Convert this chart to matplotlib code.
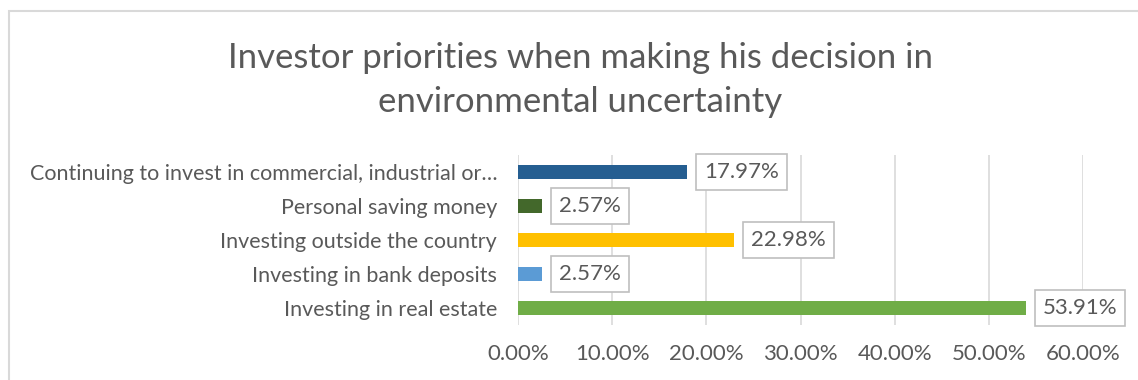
import matplotlib
matplotlib.use("Agg")
import matplotlib.pyplot as plt
from matplotlib.patches import Rectangle
from matplotlib.ticker import FuncFormatter

plt.rcParams['font.family'] = ['Lato', 'DejaVu Sans']

categories = [
    "Continuing to invest in commercial, industrial or\u2026",
    "Personal saving money",
    "Investing outside the country",
    "Investing in bank deposits",
    "Investing in real estate",
]
values = [17.97, 2.57, 22.98, 2.57, 53.91]
colors = ["#255E91", "#43682B", "#FFC000", "#5B9BD5", "#70AD47"]
xticks = [0, 10, 20, 30, 40, 50, 60]

text_color = "#595959"

fig = plt.figure(figsize=(11.38, 3.8), dpi=100)
fig.patches.append(Rectangle((9 / 1138, -0.1), 1.2, 1 - 11 / 380 + 0.1,
                             transform=fig.transFigure, facecolor="none",
                             edgecolor="#D9D9D9", linewidth=1.5, zorder=-1))

ax = fig.add_axes([518 / 1138, 55 / 380, 565 / 1138, 170 / 380])
ax.set_facecolor("none")

pos = list(range(len(categories)))[::-1]
ax.barh(pos, values, height=0.4, color=colors, zorder=3)

# Data labels in boxes
for y, v in zip(pos, values):
    ax.annotate(f"{v:.2f}%", xy=(v, y), xytext=(12, 0), textcoords="offset points",
                va="center", ha="left", fontsize=16, color=text_color,
                bbox=dict(boxstyle="square,pad=0.35", facecolor="white",
                          edgecolor="#BFBFBF", linewidth=1.2),
                annotation_clip=False, zorder=4)

ax.set_xlim(0, 60)
ax.set_ylim(-0.5, len(categories) - 0.5)
ax.set_xticks(xticks)
ax.xaxis.set_major_formatter(FuncFormatter(lambda x, _: f"{x:.2f}%"))
ax.set_yticks(pos)
ax.set_yticklabels(categories)
ax.tick_params(axis="both", length=0, labelsize=16, labelcolor=text_color)
ax.tick_params(axis="y", labelsize=15.5, pad=15)
ax.tick_params(axis="x", pad=14)

ax.grid(axis="x", color="#D9D9D9", linewidth=1.2, zorder=0)
for s in ax.spines.values():
    s.set_visible(False)

fig.text(580 / 1138, 1 - 80 / 380,
         "Investor priorities when making his decision in\nenvironmental uncertainty",
         ha="center", va="center", fontsize=25, color=text_color, linespacing=1.45)

fig.savefig("out.png", dpi=100)
